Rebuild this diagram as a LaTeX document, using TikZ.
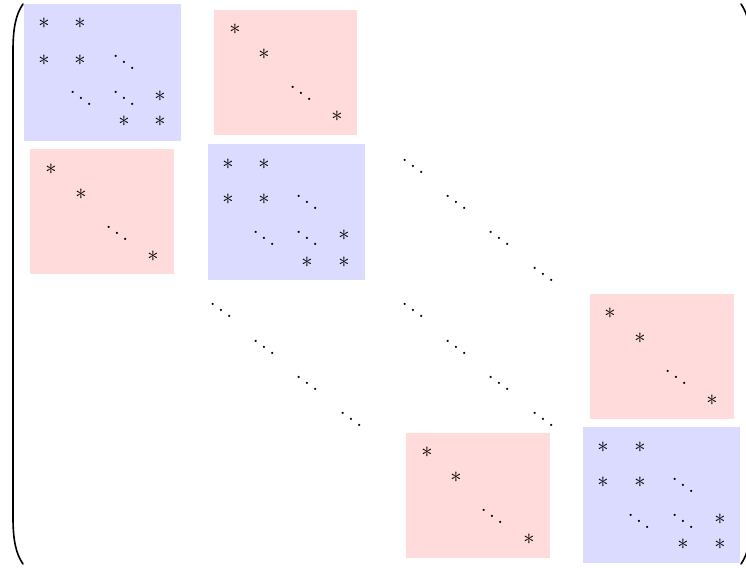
\documentclass[tikz,border=0pt]{standalone}
\usepackage{amsmath}
\tikzset{
  ent/.style={inner sep=0pt, outer sep=0pt, scale=2.1},
  entast/.style={inner sep=0pt, outer sep=0pt, scale=2.25},
  blueblk/.style={fill=blue!14},
  redblk/.style={fill=red!14},
  paren/.style={line width=1.6pt, line cap=round}
}
\newcommand{\astn}[2]{\node[entast] (#1) at (#2) {$*$};}
\newcommand{\ddn}[2]{\node[ent] (#1) at (#2) {$\ddots$};}
\begin{document}
\begin{tikzpicture}[x=1pt,y=-1pt]
\useasboundingbox (0,0) rectangle (746,567);
\clip (0,0) rectangle (746,567);
% blocks
\fill[blueblk] (24,4) rectangle (181,141);
\fill[blueblk] (208,144) rectangle (365,280);
\fill[blueblk] (583,427) rectangle (740,563);
\fill[redblk] (214,10) rectangle (357,135);
\fill[redblk] (30,149) rectangle (174,274);
\fill[redblk] (590,294) rectangle (734,419);
\fill[redblk] (406,433) rectangle (550,558);
% blue block 1
\astn{a1}{44,23} \astn{a2}{80,23} \astn{a3}{44,60} \astn{a4}{80,60}
\astn{a5}{160,96} \astn{a6}{124,121} \astn{a7}{160,121}
\ddn{ad1}{124,56} \ddn{ad2}{81,92} \ddn{ad3}{124,92}
% red block 1
\astn{b1}{235,29} \astn{b2}{264,54} \astn{b3}{337,116} \ddn{bd1}{301,87}
% red block 2
\astn{c1}{51,169} \astn{c2}{81,194} \astn{c3}{153,256} \ddn{cd1}{117,227}
% blue block 2
\astn{d1}{228,164} \astn{d2}{264,164} \astn{d3}{228,199} \astn{d4}{264,199}
\astn{d5}{344,235} \astn{d6}{307,262} \astn{d7}{344,262}
\ddn{dd1}{307,196} \ddn{dd2}{264,232} \ddn{dd3}{307,232}
% dots row2 col3
\ddn{e1}{413,160} \ddn{e2}{456,196} \ddn{e3}{499,232} \ddn{e4}{543,268}
% dots row3 col2
\ddn{f1}{221,304} \ddn{f2}{264,341} \ddn{f3}{307,377} \ddn{f4}{351,413}
% dots row3 col3
\ddn{g1}{413,304} \ddn{g2}{456,341} \ddn{g3}{499,377} \ddn{g4}{543,413}
% red block 3
\astn{h1}{610,313} \astn{h2}{640,338} \astn{h3}{712,400} \ddn{hd1}{676,371}
% red block 4
\astn{i1}{427,452} \astn{i2}{456,477} \astn{i3}{529,539} \ddn{id1}{492,510}
% blue block 3
\astn{j1}{603,447} \astn{j2}{640,447} \astn{j3}{603,482} \astn{j4}{640,482}
\astn{j5}{720,519} \astn{j6}{683,544} \astn{j7}{720,544}
\ddn{jd1}{683,479} \ddn{jd2}{639,515} \ddn{jd3}{683,515}
% parentheses
\draw[paren] (23,4) .. controls (16,14) and (13,28) .. (13,50) -- (13,518)
  .. controls (13,540) and (16,554) .. (23,564);
\draw[paren] (741,4) .. controls (748,14) and (751,28) .. (751,50) -- (751,518)
  .. controls (751,540) and (748,554) .. (741,564);
\end{tikzpicture}
\end{document}
